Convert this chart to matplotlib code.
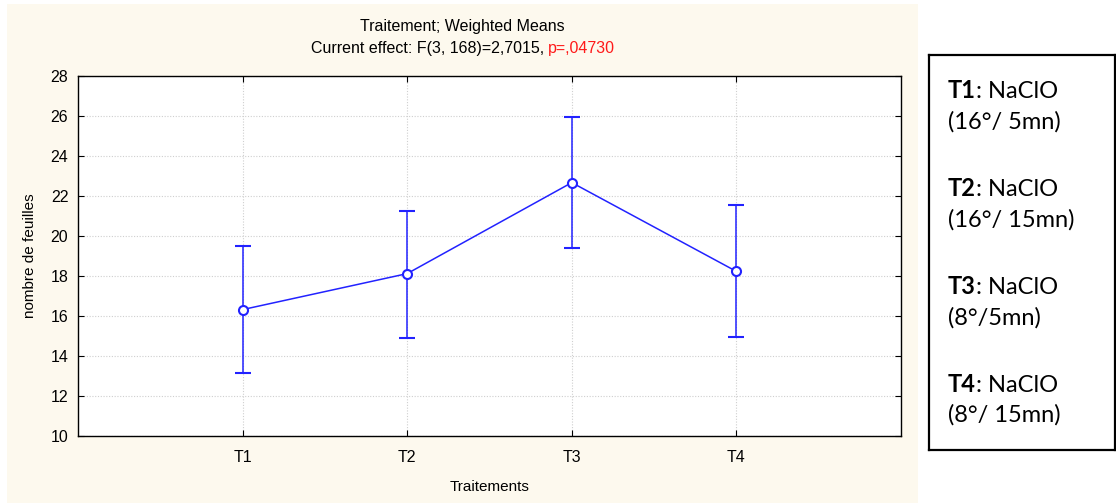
import matplotlib
matplotlib.use("Agg")
import matplotlib.pyplot as plt
import matplotlib.patches as patches

# --- données ---
traitements = ["T1", "T2", "T3", "T4"]
moyennes = [16.32, 18.12, 22.67, 18.23]
bornes_inf = [13.13, 14.88, 19.38, 14.93]
bornes_sup = [19.48, 21.27, 25.93, 21.57]
y_ticks = [10, 12, 14, 16, 18, 20, 22, 24, 26, 28]

legende_gras = ["T1", "T2", "T3", "T4"]
legende_desc = [": NaClO", ": NaClO", ": NaClO", ": NaClO"]
legende_cond = ["(16°/ 5mn)", "(16°/ 15mn)", "(8°/5mn)", "(8°/ 15mn)"]

W, H = 1116, 504
fig = plt.figure(figsize=(W / 100, H / 100), dpi=100, facecolor="white")

# fond crème du panneau Statistica
fond = patches.Rectangle((7 / W, 1 - 503 / H), 911 / W, 499 / H,
                         transform=fig.transFigure, fc="#fdf9ee", ec="none", zorder=-5)
fig.add_artist(fond)

ax = fig.add_axes([78 / W, 1 - 436 / H, 823 / W, 360 / H])
ax.set_zorder(2)
ax.set_facecolor("white")
bleu = "#2222ff"
x = list(range(1, len(traitements) + 1))
err_bas = [m - b for m, b in zip(moyennes, bornes_inf)]
err_haut = [b - m for m, b in zip(moyennes, bornes_sup)]
ax.errorbar(x, moyennes, yerr=[err_bas, err_haut], color=bleu, lw=1.1, elinewidth=1.1,
            capsize=6, capthick=1.1, marker="o", ms=6.5, mfc="white", mec=bleu, mew=1.5, zorder=3)

ax.set_xlim(0, 5)
ax.set_ylim(10, 28)
ax.set_xticks(x)
ax.set_xticklabels(traitements)
ax.set_yticks(y_ticks)
ax.grid(True, ls=(0, (1, 1.5)), color="#cfcfcf", lw=0.8)
ax.tick_params(direction="in", length=4, width=0.8, top=True, right=True, labelsize=11.5)
ax.tick_params(axis="x", pad=10)
ax.tick_params(axis="y", pad=7)
for s in ax.spines.values():
    s.set_linewidth(1.0)

police = "Liberation Sans"
for lab in ax.get_xticklabels() + ax.get_yticklabels():
    lab.set_family(police)
ax.set_xlabel("Traitements", family=police, fontsize=11, labelpad=11)
ax.set_ylabel("nombre de feuilles", family=police, fontsize=11, labelpad=10)

# titre en deux lignes, p en rouge
fig.text(462.5 / W, 1 - 26 / H, "Traitement; Weighted Means", ha="center", va="center",
         family=police, fontsize=11.5)
t1 = fig.text(0, 1 - 48 / H, "Current effect: F(3, 168)=2,7015, ", ha="left", va="center",
              family=police, fontsize=11.5)
t2 = fig.text(0, 1 - 48 / H, "p=,04730", ha="left", va="center", family=police,
              fontsize=11.5, color="#ff1a1a")
fig.canvas.draw()
w1 = t1.get_window_extent().width
w2 = t2.get_window_extent().width
x0 = 463 - (w1 + w2) / 2
t1.set_x(x0 / W)
t2.set_x((x0 + w1) / W)

# encadré de légende
lax = fig.add_axes([929 / W, 1 - 450 / H, 186 / W, 395 / H])
lax.set_xlim(929, 1115)
lax.set_ylim(H - 450, H - 55)
lax.set_xticks([])
lax.set_yticks([])
for s in lax.spines.values():
    s.set_linewidth(1.6)
pol_leg = "Lato"
y_lignes = [91, 189, 287, 384]
for g, d, c, yy in zip(legende_gras, legende_desc, legende_cond, y_lignes):
    tg = lax.text(948, H - yy, g, fontweight="bold", family=pol_leg, fontsize=17, va="center")
    lax.annotate(d, xy=(1, 0), xycoords=tg, va="bottom", ha="left", family=pol_leg, fontsize=17)
    lax.text(948, H - yy - 31, c, family=pol_leg, fontsize=17, va="center")

fig.savefig("out.png", dpi=100, facecolor="white")
